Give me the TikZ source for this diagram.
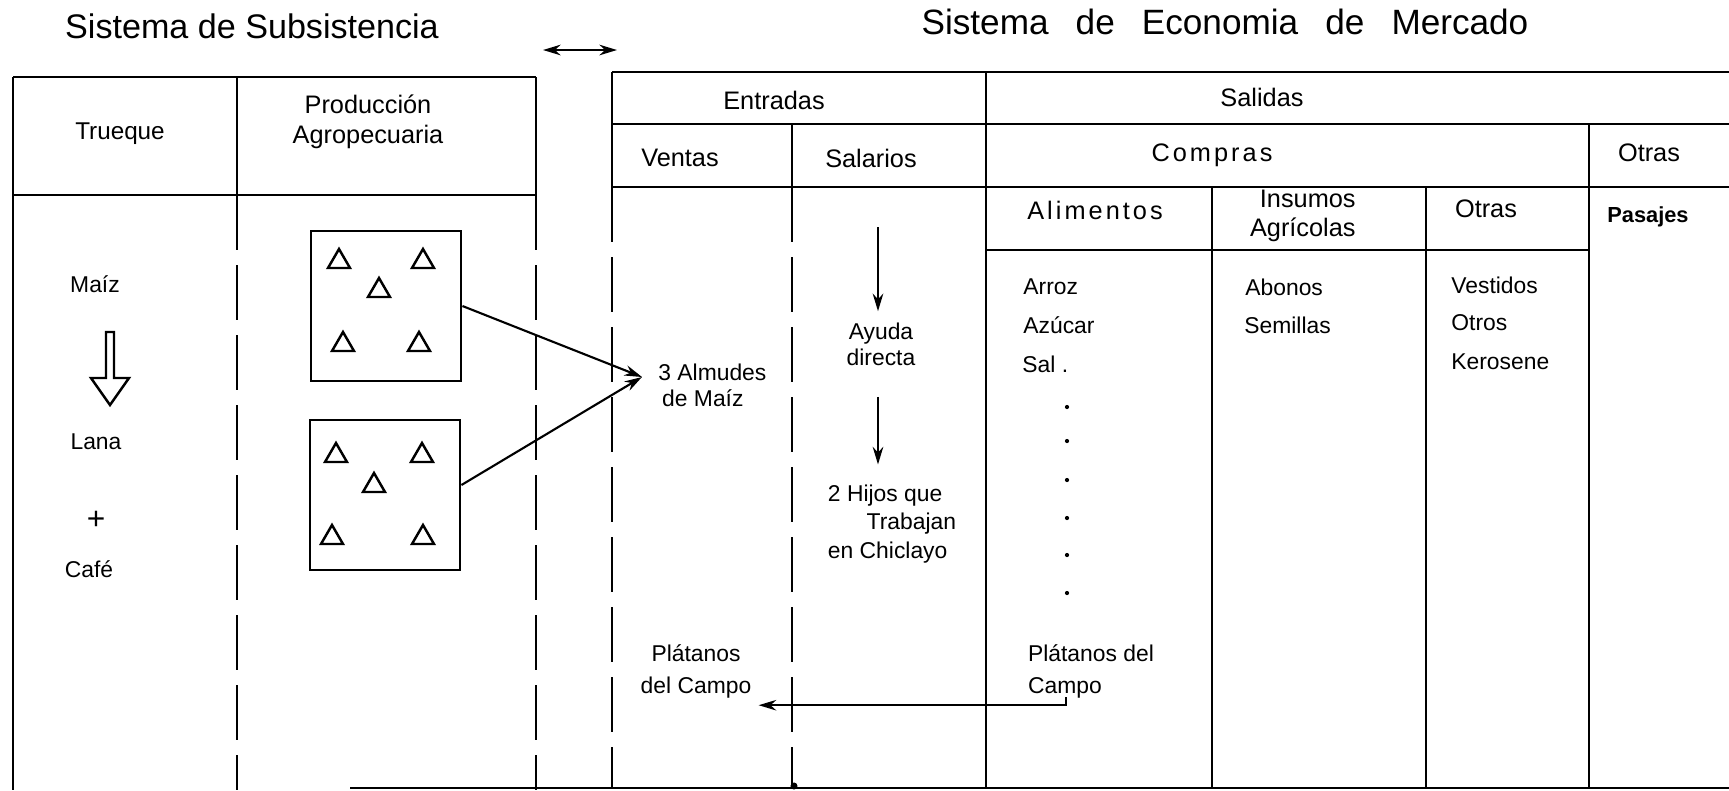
\documentclass[tikz,border=0pt]{standalone}
\usepackage{fontspec}
\setmainfont{Liberation Sans}
\newfontfamily\widefont[LetterSpace=12]{Liberation Sans}
\newcommand\wordgap{\spaceskip 7.7pt\relax}
\usetikzlibrary{arrows.meta}

\begin{document}
\begin{tikzpicture}[x=0.01cm, y=-0.01cm, line width=0.8pt,
    ttl/.style={font=\fontsize{9.7}{12}\selectfont, inner sep=0},
    hdr/.style={font=\fontsize{7.2}{8.2}\selectfont, inner sep=0, align=center},
    wide/.style={font=\widefont\fontsize{7.2}{8.2}\selectfont},
    txt/.style={font=\fontsize{6.5}{7.4}\selectfont, inner sep=0, align=center},
    lst/.style={font=\fontsize{6.5}{7.4}\selectfont, inner sep=0, anchor=west},
    cut/.style={dash pattern=on 0.55cm off 0.15cm},
    arr/.style={line width=0.6pt, -{Stealth[length=5pt, width=3pt]}},
    field/.style={draw, minimum width=1.5cm, minimum height=1.5cm}]
    \useasboundingbox (0,0) rectangle (1729,790);

    \node [ttl] (Subsistencia) at (252,26) {Sistema de Subsistencia};
    \node [ttl, font={\fontsize{10}{12}\selectfont\wordgap}] (Mercado) at (1225,22) {Sistema de Economia de Mercado};
    \coordinate (SubEnd) at (543,50);
    \coordinate (MerEnd) at (617,50);
    \draw [line width=0.7pt, {Stealth[length=5pt, width=3pt]}-{Stealth[length=5pt, width=3pt]}] (SubEnd) -- (MerEnd);

    \draw (13,77) -- (536,77);
    \draw (13,195) -- (536,195);
    \draw (13,77) -- (13,790);
    \draw (237,77) -- (237,195);
    \draw (536,77) -- (536,195);
    \draw [cut] (237,195) -- (237,790);
    \draw [cut] (536,195) -- (536,790);

    \draw (612,72) -- (1729,72);
    \draw (612,124) -- (1729,124);
    \draw (612,187) -- (1729,187);
    \draw (986,250) -- (1589,250);
    \draw (612,72) -- (612,187);
    \draw [cut] (612,187) -- (612,788);
    \draw (792,124) -- (792,187);
    \draw [cut] (792,187) -- (792,788);
    \draw (986,72) -- (986,788);
    \draw (1212,187) -- (1212,788);
    \draw (1426,187) -- (1426,788);
    \draw (1589,124) -- (1589,788);
    \draw (350,788) -- (1729,788);
    \fill (794,786) circle (1pt);

    \node [hdr, font=\fontsize{6.9}{8}\selectfont] (Trueque) at (120,134) {Trueque};
    \node [hdr, font=\fontsize{7.2}{8.5}\selectfont] (Produccion) at (368,122) {Producción\\Agropecuaria};
    \node [txt] (Maiz) at (95,284) {Maíz};
    \node [txt] (Lana) at (96,442) {Lana};
    \node [txt, font=\fontsize{9}{9}\selectfont] (Plus) at (96,520) {+};
    \node [txt] (Cafe) at (89,569) {Café};
    \draw [line width=0.7pt] (106,332) -- (114,332) -- (114,378) -- (129,378) -- (110,405) -- (91,378) -- (106,378) -- cycle;

    \node [field] (Field1) at (386,306) {};
    \node [field] (Field2) at (385,495) {};
    \foreach \x/\y in {339/259, 423/259, 379/288, 343/342, 419/342, 336/453, 422/453, 374/483, 332/535, 423/535}
        \draw [line width=0.7pt] (\x,\y) ++(-11,9) -- ++(11,-19) -- ++(11,19) -- cycle;

    \node [hdr] (Entradas) at (774,100) {Entradas};
    \node [hdr] (Salidas) at (1262,97) {Salidas};
    \node [hdr] (Ventas) at (680,158) {Ventas};
    \node [hdr] (Salarios) at (871,158) {Salarios};
    \node [hdr, wide] (Compras) at (1212,155) {Compras};
    \node [hdr] (OtrasSalidas) at (1649,153) {Otras};
    \node [hdr, wide] (Alimentos) at (1095,210) {Alimentos};
    \node [hdr, align=right, anchor=east] (Insumos) at (1357,216) {Insumos\\Agrícolas};
    \node [hdr] (OtrasCompras) at (1486,209) {Otras};
    \node [txt, font=\fontsize{6.2}{7}\selectfont\bfseries] (Pasajes) at (1648,217) {Pasajes};

    \node [txt, anchor=west, align=left, inner xsep=0.15cm] (Almudes) at (642,385) {3 Almudes\\\,de Maíz};
    \draw [arr] (Field1.east) -- ([yshift=0.08cm]Almudes.west);
    \draw [arr] ([yshift=0.1cm]Field2.east) -- ([yshift=0.08cm]Almudes.west);

    \node [txt, inner sep=0.1cm] (Ayuda) at (881,344) {Ayuda\\directa};
    \node [txt, align=left, inner sep=0.1cm, font=\fontsize{6.5}{8.1}\selectfont] (Hijos) at (892,524) {2 Hijos que\\\hspace{11pt}Trabajan\\en Chiclayo};
    \coordinate (SalTop) at (878,227);
    \draw [arr] (SalTop) -- (SalTop |- Ayuda.north);
    \draw [arr, shorten <=0.2cm, shorten >=0.09cm] (Ayuda.south -| SalTop) -- (Hijos.north -| SalTop);

    \node [txt, inner sep=0.06cm, font=\fontsize{6.5}{9.1}\selectfont] (PlatVentas) at (696,671) {Plátanos\\del Campo};

    \node [lst] (Arroz) at (1022,287) {Arroz};
    \node [lst] (Azucar) at (1022,325) {Azúcar};
    \node [lst] (Sal) at (1021,364) {Sal .};
    \foreach \y in {407,441,480,518,555,593}
        \fill (1067,\y) circle (0.6pt);
    \node [txt, align=left, font=\fontsize{6.5}{9.1}\selectfont] (PlatAlimentos) at (1091,671) {Plátanos del\\Campo};
    \coordinate (Hook) at (1066,697);
    \draw [arr] (Hook) |- (PlatVentas.south east);

    \node [lst] (Abonos) at (1244,287) {Abonos};
    \node [lst] (Semillas) at (1243,325) {Semillas};
    \node [lst] (Vestidos) at (1450,285) {Vestidos};
    \node [lst] (Otros) at (1450,323) {Otros};
    \node [lst] (Kerosene) at (1450,362) {Kerosene};
\end{tikzpicture}
\end{document}
